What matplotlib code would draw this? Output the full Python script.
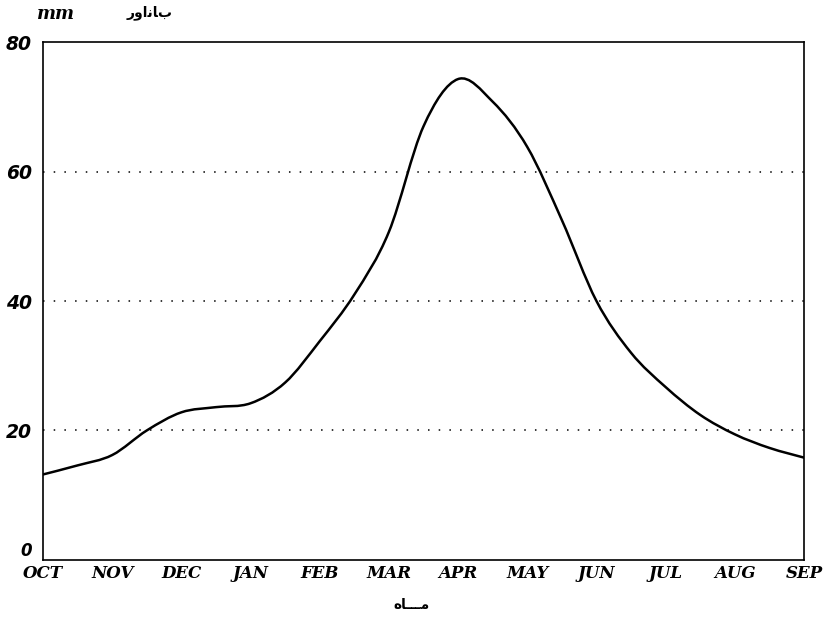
import numpy as np
import matplotlib.pyplot as plt
from matplotlib.path import Path
from matplotlib.patches import PathPatch


# monthly runoff (mm), read at every half month from OCT to SEP
months = ["OCT", "NOV", "DEC", "JAN", "FEB", "MAR", "APR", "MAY", "JUN", "JUL", "AUG", "SEP"]
month_pos = np.arange(23) / 2
runoff = [13.2, 14.6, 16.2, 20.0, 22.8, 23.6, 24.2, 27.4, 33.8, 41.0, 50.7, 67.0,
          74.3, 70.8, 63.8, 52.5, 40.0, 32.0, 26.7, 22.4, 19.4, 17.3, 15.8]
y_ticks = [0, 20, 40, 60, 80]

# persian labels written in presentation forms (visual order) since matplotlib has no shaping
title_fa = "\uFEAD\uFEED\uFE8D\uFEE7\uFE8E\uFE8F"   # runoff, as printed in the scan
xlabel_fa = "\uFEE9\uFE8E\u0640\u0640\u0640\uFEE3"  # month


def smooth_path(x, y):
    # catmull-rom segments turned into cubic bezier pieces, drawn by matplotlib
    pts = np.column_stack([x, y])
    ext = np.vstack([pts[0], pts, pts[-1]])
    verts = [pts[0]]
    codes = [Path.MOVETO]
    for i in range(1, len(ext) - 2):
        p0, p1, p2, p3 = ext[i - 1], ext[i], ext[i + 1], ext[i + 2]
        verts += [p1 + (p2 - p0) / 6, p2 - (p3 - p1) / 6, p2]
        codes += [Path.CURVE4] * 3
    return Path(verts, codes)


fig = plt.figure(figsize=(8.28, 6.2), dpi=100)
ax = fig.add_axes([0.052, 0.097, 0.919, 0.835])

ax.add_patch(PathPatch(smooth_path(month_pos, runoff), fill=False,
                       edgecolor="black", linewidth=1.8, capstyle="round"))

for v in y_ticks[1:-1]:
    ax.axhline(v, color="black", linewidth=1.1, linestyle=(0, (1, 6)))

ax.set_xlim(0, 11)
ax.set_ylim(0, 80)

ax.set_xticks(range(len(months)))
ax.set_xticklabels(months, family="DejaVu Serif", weight="bold", style="italic", fontsize=12)
ax.set_yticks(y_ticks)
ylabels = ax.set_yticklabels([str(v) for v in y_ticks], family="DejaVu Sans",
                             weight="bold", style="italic", fontsize=13.5)
ylabels[0].set_va("bottom")
ylabels[0].set_fontsize(12)
ax.tick_params(axis="both", length=0)
ax.tick_params(axis="x", pad=4)
ax.tick_params(axis="y", pad=8)

for s in ax.spines.values():
    s.set_linewidth(1.2)

fig.text(0.068, 0.977, "mm", family="DejaVu Serif", weight="bold", style="italic",
         fontsize=13, ha="center", va="center")
fig.text(0.181, 0.98, title_fa, family="DejaVu Sans", weight="bold",
         fontsize=10, ha="center", va="center")
fig.text(0.497, 0.024, xlabel_fa, family="DejaVu Sans", weight="bold",
         fontsize=10, ha="center", va="center")

fig.savefig("out.png", dpi=100)
